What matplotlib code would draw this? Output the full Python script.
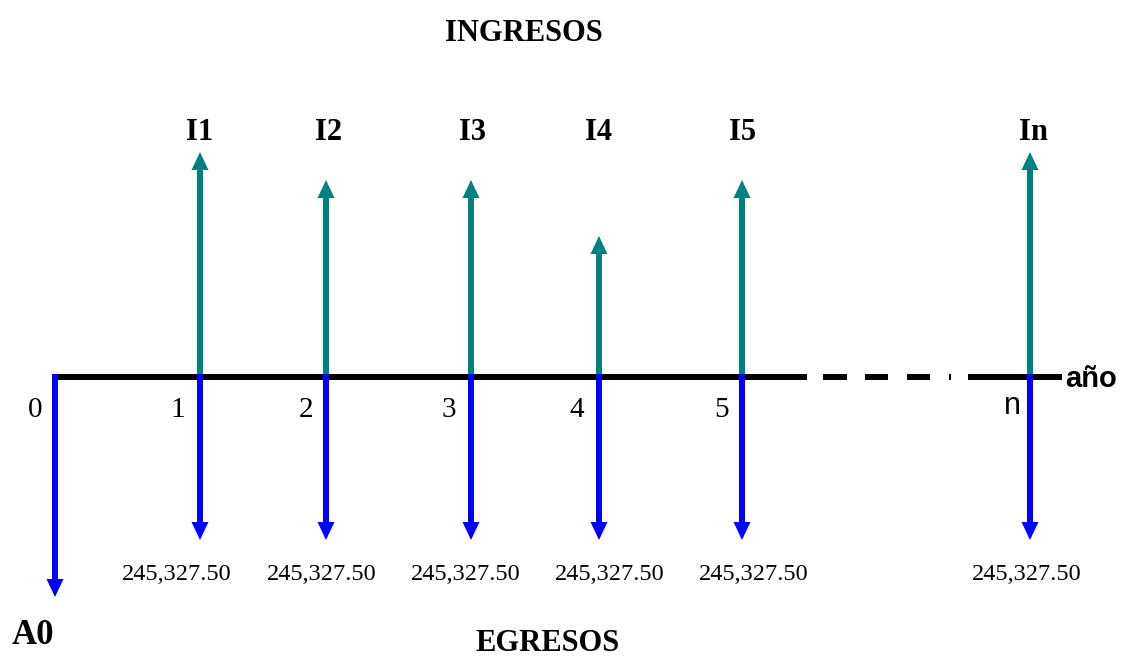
import matplotlib
matplotlib.use("Agg")
import matplotlib.pyplot as plt

# ---- data ----
periods = ["0", "1", "2", "3", "4", "5", "n"]
income_labels = ["I1", "I2", "I3", "I4", "I5", "In"]
income_heights = [225, 197, 197, 141, 197, 225]        # arrow lengths (relative units)
outflow_amounts = ["245,327.50"] * 6
outflow_depth = 163
initial_depth = 220
initial_label = "A0"

# ---- layout ----
W, H = 1128, 656
y_line = 377
period_x = [55, 200, 326, 471, 599, 742, 1030]
period_label_x = [35, 178, 306, 449, 577, 721, 1012]
amount_label_x = [177, 322, 466, 610, 754, 1027]
income_label_x = [200, 328, 472, 599, 743, 1034]

teal = "#008080"
blue = "#0000FF"
serif = ["Liberation Serif", "DejaVu Serif"]
sans = ["Liberation Sans", "DejaVu Sans"]

fig = plt.figure(figsize=(W / 100, H / 100), dpi=100)
ax = fig.add_axes([0, 0, 1, 1])
ax.set_xlim(0, W)
ax.set_ylim(-(H - y_line), y_line)
ax.axis("off")

lw = 6 * 72 / 100  # 6 px in points

# timeline (solid / dashed / solid)
segments = [(55, 807), (823, 847), (865, 888), (907, 930), (949, 951), (968, 1062)]
for a, b in segments:
    ax.plot([a, b], [0, 0], color="black", lw=lw, solid_capstyle="butt", zorder=2)

head_w, head_l, shaft_w = 17, 18, 6

# income arrows (up)
for x, h in zip(period_x[1:], income_heights):
    ax.arrow(x, 0, 0, h, width=shaft_w, head_width=head_w, head_length=head_l,
             length_includes_head=True, color=teal, lw=0, zorder=1)

# outflow arrows (down)
for x in period_x[1:]:
    ax.arrow(x, 3, 0, -(outflow_depth + 3), width=shaft_w, head_width=head_w,
             head_length=head_l, length_includes_head=True, color=blue, lw=0, zorder=3)
ax.arrow(period_x[0], 3, 0, -(initial_depth + 3), width=shaft_w, head_width=head_w,
         head_length=head_l, length_includes_head=True, color=blue, lw=0, zorder=3)

# period labels
for lab, x in zip(periods, period_label_x):
    if lab == "n":
        ax.text(x, -37, lab, ha="center", va="baseline", fontsize=22, family=sans)
    else:
        ax.text(x, -40, lab, ha="center", va="baseline", fontsize=21, family=serif)

# income labels
for lab, x in zip(income_labels, income_label_x):
    ax.text(x, 237, lab, ha="center", va="baseline", fontsize=22,
            fontweight="bold", family=serif)

# outflow amounts
for lab, x in zip(outflow_amounts, amount_label_x):
    ax.text(x, -203, lab, ha="center", va="baseline", fontsize=17.5, family=serif)

ax.text(1065, -10, "año", ha="left", va="baseline", fontsize=21,
        fontweight="bold", family=sans)
ax.text(524, 336, "INGRESOS", ha="center", va="baseline", fontsize=22,
        fontweight="bold", family=serif)
ax.text(548, -274, "EGRESOS", ha="center", va="baseline", fontsize=22,
        fontweight="bold", family=serif)
ax.text(12, -267, initial_label, ha="left", va="baseline", fontsize=25,
        fontweight="bold", family=serif)

fig.savefig("out.png", dpi=100)
